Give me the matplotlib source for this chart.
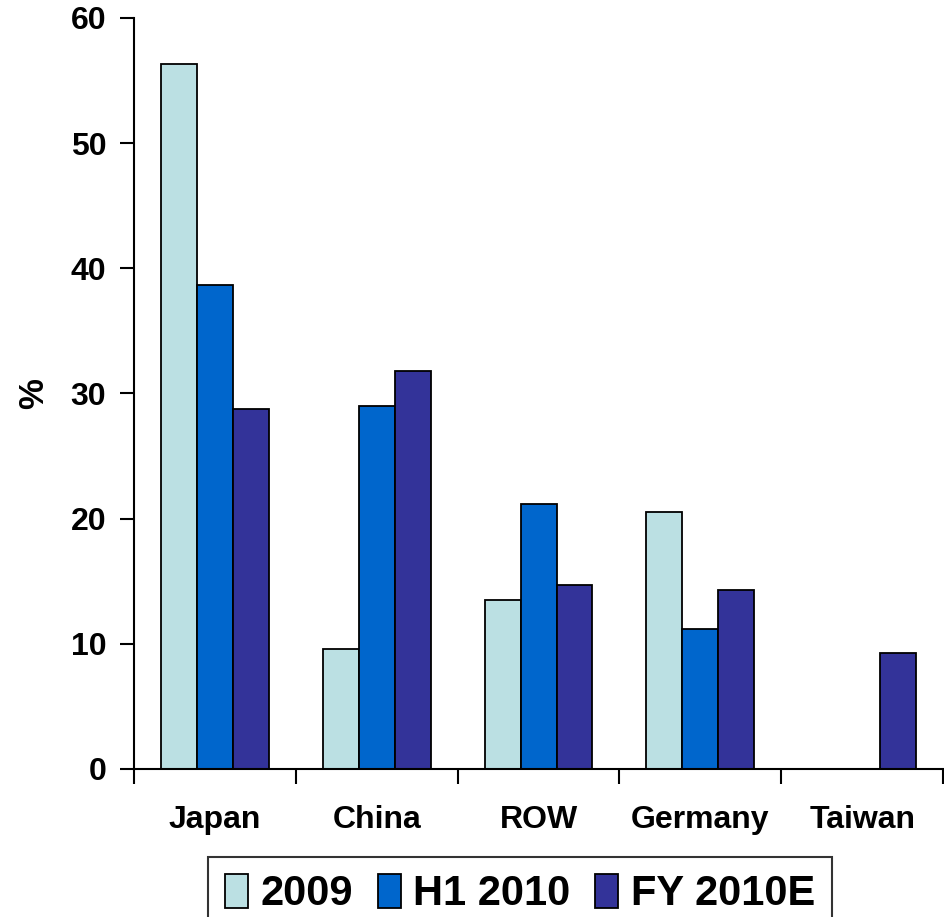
import matplotlib
matplotlib.use("Agg")
import matplotlib.pyplot as plt
import numpy as np

plt.rcParams['font.family'] = ['Liberation Sans', 'DejaVu Sans']
plt.rcParams['font.weight'] = 'bold'

categories = ["Japan", "China", "ROW", "Germany", "Taiwan"]
series_names = ["2009", "H1 2010", "FY 2010E"]
values_2009 = [56.3, 9.6, 13.5, 20.5, 0.0]
values_h1_2010 = [38.7, 29.0, 21.2, 11.2, 0.0]
values_fy_2010e = [28.8, 31.8, 14.7, 14.3, 9.3]
colors = ["#BBE0E3", "#0066CC", "#333399"]
y_ticks = [0, 10, 20, 30, 40, 50, 60]

fig = plt.figure(figsize=(9.44, 9.17), dpi=100)
ax = fig.add_axes([0.142, 0.1614, 0.857, 0.8190])

x = np.arange(len(categories))
width = 0.222
all_series = [values_2009, values_h1_2010, values_fy_2010e]
handles = []
for i, (vals, col, name) in enumerate(zip(all_series, colors, series_names)):
    h = ax.bar(x + (i - 1) * width, vals, width, color=col,
               edgecolor="black", linewidth=1.3, label=name)
    handles.append(h)

ax.set_xlim(-0.5, len(categories) - 0.5)
ax.set_ylim(0, 60)
ax.set_yticks(y_ticks)
ax.set_yticklabels([str(t) for t in y_ticks], fontsize=23, fontweight='bold')

# category labels centred, ticks at the category boundaries
ax.set_xticks(np.arange(len(categories) + 1) - 0.5)
ax.set_xticklabels([])
ax.set_xticks(x, minor=True)
ax.set_xticklabels(categories, minor=True, fontsize=23, fontweight='bold')
ax.tick_params(axis='x', which='minor', length=0, pad=26)
ax.tick_params(axis='x', which='major', length=11, width=1.5, direction='out')
ax.tick_params(axis='y', length=10, width=1.5, direction='out', pad=10)

for s in ["top", "right"]:
    ax.spines[s].set_visible(False)
for s in ["left", "bottom"]:
    ax.spines[s].set_linewidth(1.5)
    ax.spines[s].set_color("black")

ax.set_ylabel("%", fontsize=25, fontweight='bold')
ax.yaxis.set_label_coords(-0.104, 0.5)

leg = fig.legend(handles=handles, labels=series_names, loc='upper center',
                 bbox_to_anchor=(520 / 944, 1 - 857 / 917), ncol=3,
                 prop={'size': 30, 'weight': 'bold'}, frameon=True,
                 fancybox=False, edgecolor='black', handlelength=0.55,
                 handleheight=0.9, handletextpad=0.3, columnspacing=0.6,
                 borderpad=0.4, borderaxespad=0)
leg.get_frame().set_linewidth(1.5)

fig.savefig("out.png", dpi=100)
